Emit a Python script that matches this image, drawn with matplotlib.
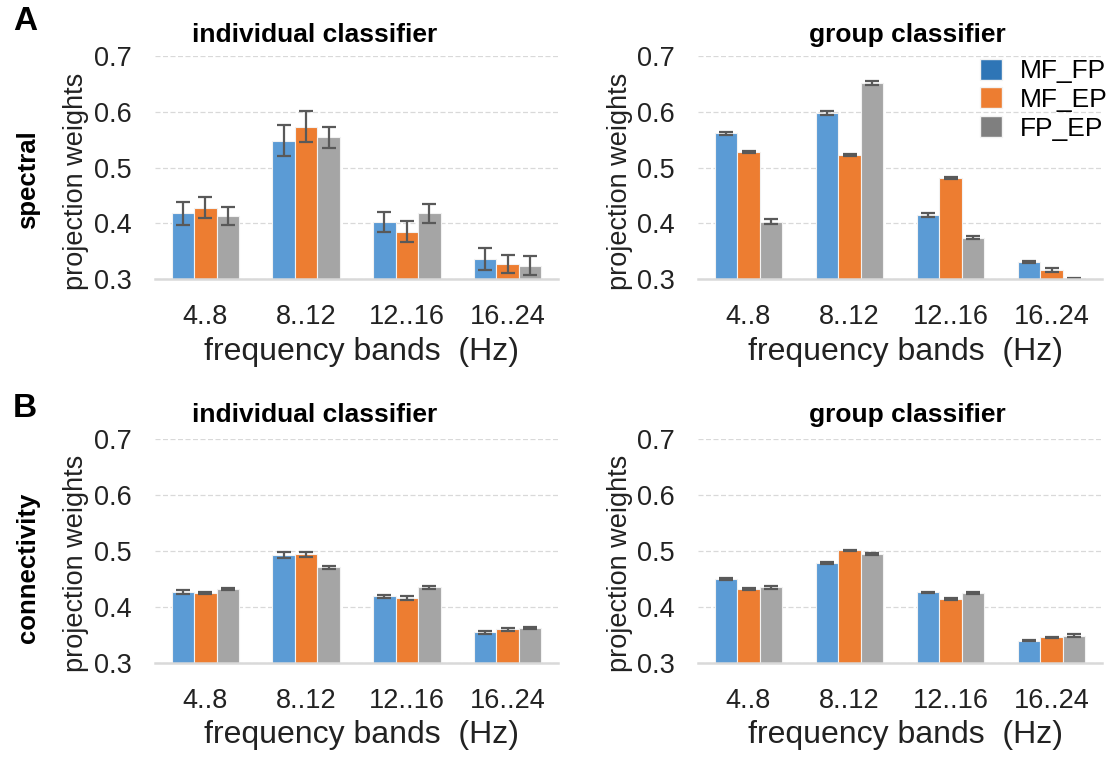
import matplotlib
matplotlib.use("Agg")
import matplotlib.pyplot as plt
from matplotlib.patches import Patch
import numpy as np

plt.rcParams['font.family'] = ['Liberation Sans', 'DejaVu Sans']

bands = ["4..8", "8..12", "12..16", "16..24"]
series = ["MF_FP", "MF_EP", "FP_EP"]

# spectral, individual classifier
spec_ind = [[0.418, 0.548, 0.402, 0.336],
            [0.428, 0.573, 0.385, 0.327],
            [0.413, 0.554, 0.418, 0.324]]
spec_ind_err = [[0.021, 0.028, 0.018, 0.019],
                [0.019, 0.028, 0.019, 0.016],
                [0.017, 0.019, 0.017, 0.017]]
# spectral, group classifier
spec_grp = [[0.561, 0.598, 0.415, 0.331],
            [0.528, 0.522, 0.481, 0.316],
            [0.403, 0.652, 0.374, 0.301]]
spec_grp_err = [[0.002, 0.003, 0.003, 0.002],
                [0.002, 0.002, 0.002, 0.003],
                [0.004, 0.004, 0.003, 0.001]]
# connectivity, individual classifier
conn_ind = [[0.427, 0.493, 0.419, 0.355],
            [0.425, 0.494, 0.416, 0.360],
            [0.432, 0.471, 0.435, 0.363]]
conn_ind_err = [[0.003, 0.005, 0.003, 0.003],
                [0.002, 0.005, 0.003, 0.002],
                [0.002, 0.003, 0.002, 0.002]]
# connectivity, group classifier
conn_grp = [[0.450, 0.479, 0.426, 0.340],
            [0.432, 0.501, 0.414, 0.346],
            [0.435, 0.494, 0.425, 0.349]]
conn_grp_err = [[0.001, 0.002, 0.001, 0.001],
                [0.002, 0.001, 0.002, 0.001],
                [0.002, 0.002, 0.002, 0.002]]

bar_colors = ["#5B9BD5", "#ED7D31", "#A5A5A5"]
legend_colors = ["#2E75B6", "#ED7D31", "#7F7F7F"]

W, H = 1114, 762
fig = plt.figure(figsize=(W / 100, H / 100), dpi=100)


def px_axes(x0, y0, x1, y1):
    return fig.add_axes([x0 / W, 1 - y1 / H, (x1 - x0) / W, (y1 - y0) / H])


def draw_panel(ax, vals, errs):
    x = np.arange(len(bands))
    bw = 0.223
    for i in range(3):
        ax.bar(x + (i - 1) * bw, vals[i], bw, color=bar_colors[i],
               edgecolor="#F2F2F2", linewidth=0.8, zorder=2)
        ax.errorbar(x + (i - 1) * bw, vals[i], yerr=errs[i], fmt="none",
                    ecolor="#595959", elinewidth=1.6, capsize=4.7, capthick=1.6, zorder=3)
    ax.set_xlim(-0.5, 3.5)
    ax.set_ylim(0.3, 0.7)
    ax.set_yticks([0.3, 0.4, 0.5, 0.6, 0.7])
    ax.set_yticklabels(["0.3", "0.4", "0.5", "0.6", "0.7"])
    ax.set_xticks(x)
    ax.set_xticklabels(bands)
    ax.tick_params(length=0, labelsize=19.5, colors="#222222")
    ax.tick_params(axis="x", pad=18)
    ax.tick_params(axis="y", pad=16.5)
    ax.yaxis.grid(True, color="#D9D9D9", linestyle=(0, (4, 2)), linewidth=0.9, zorder=0)
    ax.set_axisbelow(True)
    for s in ["top", "right", "left"]:
        ax.spines[s].set_visible(False)
    ax.spines["bottom"].set_color("#D9D9D9")
    ax.spines["bottom"].set_linewidth(1.8)
    ax.spines["bottom"].set_zorder(4)


ax1 = px_axes(155, 56, 558, 279)
ax2 = px_axes(698, 56, 1102, 279)
ax3 = px_axes(155, 439, 558, 663)
ax4 = px_axes(698, 439, 1102, 663)

draw_panel(ax1, spec_ind, spec_ind_err)
draw_panel(ax2, spec_grp, spec_grp_err)
draw_panel(ax3, conn_ind, conn_ind_err)
draw_panel(ax4, conn_grp, conn_grp_err)

handles = [Patch(facecolor=c, edgecolor="#F2F2F2") for c in legend_colors]
ax2.legend(handles, series, loc="upper right", bbox_to_anchor=(1110 / W, 1 - 56 / H),
           bbox_transform=fig.transFigure, frameon=False, fontsize=19,
           handlelength=0.85, handleheight=0.85, labelspacing=0.15, handletextpad=0.65,
           borderaxespad=0, borderpad=0.1)


def ftext(x, y, s, **kw):
    fig.text(x / W, 1 - y / H, s, ha="center", va="center", **kw)


# panel letters
ftext(25, 22, "A", fontsize=24, fontweight="bold")
ftext(25, 408, "B", fontsize=24, fontweight="bold")

# titles
ftext(315, 35, "individual classifier", fontsize=19, fontweight="bold")
ftext(907, 35, "group classifier", fontsize=19, fontweight="bold")
ftext(315, 415, "individual classifier", fontsize=19, fontweight="bold")
ftext(907, 415, "group classifier", fontsize=19, fontweight="bold")

# row labels
ftext(28, 180, "spectral", fontsize=18.5, fontweight="bold", rotation=90)
ftext(28, 568, "connectivity", fontsize=18.5, fontweight="bold", rotation=90)

# y labels
for xx, yy in [(76, 181), (620, 181), (76, 563), (620, 563)]:
    ftext(xx, yy, "projection weights", fontsize=19.5, rotation=90, color="#222222")

# x labels
for xx, yy in [(362, 352), (905, 352), (362, 735), (905, 735)]:
    ftext(xx, yy, "frequency bands  (Hz)", fontsize=23, color="#222222")

fig.savefig("out.png", dpi=100)
